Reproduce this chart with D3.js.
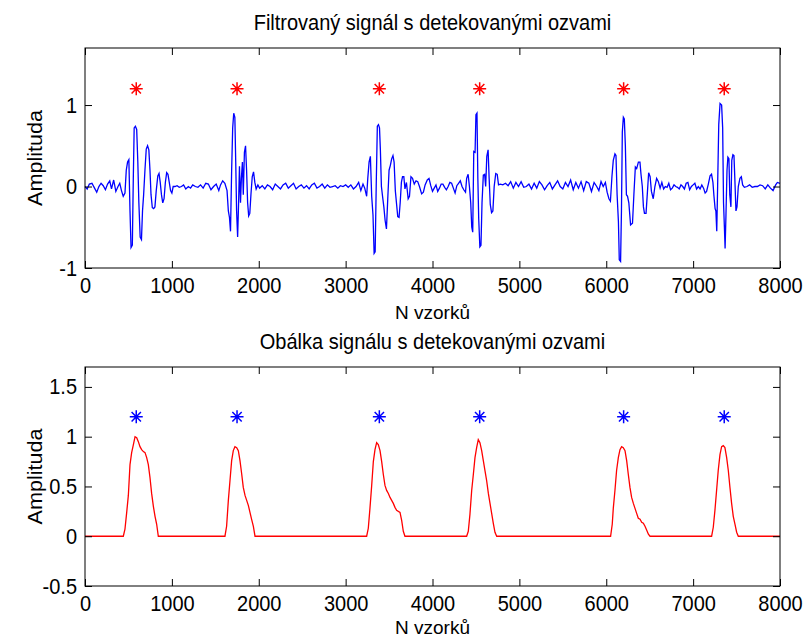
<!DOCTYPE html>
<html>
<head>
<meta charset="utf-8">
<script src="https://cdn.jsdelivr.net/npm/d3@7"></script>
<style>
  html, body { margin: 0; padding: 0; background: #fff; }
  svg { display: block; }
  text { font-family: "Liberation Sans", Arial, Helvetica, sans-serif; fill: #000; }
</style>
</head>
<body>
<svg id="chart" width="803" height="639"></svg>
<script>
// ---------------- DATA ----------------
const xTicks = [0, 1000, 2000, 3000, 4000, 5000, 6000, 7000, 8000];
const yTicksTop = [-1, 0, 1];
const yTicksBottom = [-0.5, 0, 0.5, 1, 1.5];
const titleTop = "Filtrovaný signál s detekovanými ozvami";
const titleBottom = "Obálka signálu s detekovanými ozvami";
const xLabel = "N vzorků";
const yLabel = "Amplituda";

// detected echoes (sample index) and marker level
const detections = [590, 1750, 3388, 4543, 6200, 7358];
const detectionLevel = 1.2;

// filtered signal: [sample, amplitude]
const filtered = [
 [0,0.0],[25,-0.03],[50,0.03],[80,0.04],[110,-0.02],[135,-0.07],[160,0.0],[185,0.04],[210,0.01],[235,-0.04],
 [260,0.03],[285,0.07],[305,-0.03],[330,0.08],[355,-0.06],[380,0.0],[400,0.04],[420,-0.05],[440,-0.12],[460,-0.08],
 [475,0.2],[490,0.3],[505,0.33],[518,-0.3],[530,-0.75],[545,-0.72],[556,0.1],[566,0.72],[580,0.74],[595,0.7],
 [608,0.3],[620,-0.2],[635,-0.62],[650,-0.65],[662,-0.3],[675,-0.1],[690,0.2],[705,0.46],[720,0.5],[735,0.45],
 [748,0.2],[760,-0.1],[775,-0.26],[790,-0.27],[805,-0.25],[820,-0.05],[838,0.13],[852,0.16],[866,0.05],[880,-0.1],
 [895,-0.2],[910,-0.15],[925,0.05],[940,0.17],[955,0.15],[970,0.05],[985,-0.05],[1000,-0.08],[1015,0.0],
 [1035,0.0],[1060,0.01],[1085,-0.01],[1110,0.0],[1135,0.02],[1160,-0.03],[1190,0.0],[1215,-0.02],[1240,0.02],
 [1270,0.0],[1300,-0.01],[1330,0.02],[1360,-0.02],[1390,0.04],[1420,0.03],[1450,-0.04],[1480,0.0],[1510,0.03],
 [1540,-0.05],[1560,0.02],[1585,0.07],[1610,0.04],[1635,-0.05],
 [1650,-0.3],[1663,-0.38],[1675,-0.55],[1688,0.2],[1700,0.72],[1712,0.9],[1725,0.85],[1735,0.3],[1745,-0.3],
 [1757,-0.62],[1768,-0.2],[1778,0.25],[1790,-0.2],[1800,0.1],[1812,0.3],[1822,-0.1],[1835,0.42],[1848,0.5],
 [1860,0.2],[1872,-0.2],[1884,-0.36],[1897,-0.33],[1910,-0.1],[1925,0.12],[1940,0.18],[1955,0.05],[1970,-0.03],
 [1990,0.02],[2010,-0.02],[2040,0.01],[2070,-0.03],[2100,0.02],[2130,0.0],[2160,-0.04],[2190,0.03],[2220,0.0],
 [2250,-0.03],[2280,0.02],[2310,0.04],[2340,-0.02],[2370,0.01],[2400,0.04],[2430,-0.03],[2460,0.0],[2490,0.02],
 [2520,-0.02],[2550,0.01],[2580,-0.03],[2610,0.02],[2640,0.04],[2670,-0.02],[2700,0.0],[2730,0.03],[2760,-0.02],
 [2790,0.02],[2820,-0.01],[2850,0.0],[2880,0.01],[2910,-0.02],[2940,0.01],[2970,0.0],[3000,0.02],[3030,-0.01],
 [3060,0.02],[3090,-0.03],[3120,0.0],[3150,0.05],[3175,-0.05],[3200,0.03],[3220,-0.02],[3242,-0.12],
 [3255,0.1],[3270,0.3],[3285,0.37],[3300,-0.12],[3315,-0.35],[3328,-0.82],[3340,-0.8],[3352,0.0],[3365,0.74],
 [3378,0.76],[3390,0.72],[3400,0.45],[3412,0.0],[3425,-0.12],[3440,-0.25],[3455,-0.42],[3470,-0.52],[3485,-0.15],
 [3500,0.2],[3515,0.26],[3530,0.34],[3545,0.38],[3558,0.3],[3572,-0.05],[3585,-0.2],[3600,-0.37],[3615,-0.38],
 [3628,-0.2],[3642,0.05],[3655,0.12],[3670,0.12],[3683,-0.03],[3700,0.05],[3720,-0.15],[3735,-0.12],[3752,0.12],
 [3770,0.1],[3790,0.03],[3810,0.07],[3830,0.06],[3850,0.0],[3875,-0.09],[3895,-0.07],[3915,0.02],[3940,0.08],
 [3960,0.1],[3980,0.01],[4000,-0.06],[4020,-0.02],[4040,0.02],[4060,-0.06],[4080,-0.02],[4100,0.03],[4120,0.03],
 [4140,-0.01],[4160,-0.04],[4180,0.0],[4200,0.05],[4220,0.04],[4240,-0.02],[4260,-0.08],[4280,0.01],[4300,0.04],
 [4320,0.07],[4340,0.0],[4360,-0.04],[4380,-0.07],[4393,0.1],[4410,0.15],[4425,0.0],[4440,-0.2],
 [4452,-0.5],[4463,-0.56],[4475,0.43],[4490,0.42],[4500,0.88],[4512,0.9],[4522,0.1],[4532,-0.4],[4545,-0.74],
 [4558,-0.72],[4570,-0.2],[4585,0.14],[4600,0.15],[4612,0.0],[4625,0.37],[4640,0.45],[4652,0.1],[4665,-0.22],
 [4680,-0.32],[4695,-0.3],[4710,0.0],[4728,0.16],[4745,0.15],[4760,0.02],
 [4780,0.03],[4810,0.02],[4840,0.04],[4870,0.01],[4900,0.06],[4930,-0.02],[4960,0.05],[4990,0.0],[5020,0.06],
 [5050,-0.01],[5080,0.0],[5110,0.03],[5140,-0.03],[5170,0.04],[5200,-0.02],[5230,0.06],[5260,0.02],[5290,-0.04],
 [5320,0.01],[5350,0.05],[5380,-0.03],[5410,0.02],[5440,0.07],[5470,0.0],[5500,-0.03],[5530,0.05],[5560,0.0],
 [5590,0.08],[5620,-0.04],[5650,0.05],[5680,-0.02],[5710,0.06],[5740,-0.05],[5770,0.06],[5800,0.04],[5830,-0.06],
 [5860,0.05],[5890,0.0],[5915,-0.05],[5940,0.06],[5965,0.0],[5990,0.05],[6010,-0.07],[6031,-0.15],[6048,-0.18],
 [6066,0.13],[6081,0.32],[6100,0.4],[6112,0.38],[6125,-0.1],[6140,-0.43],[6150,-0.9],[6165,-0.92],[6175,-0.3],
 [6185,0.67],[6197,0.85],[6208,0.83],[6220,0.5],[6232,-0.1],[6245,-0.12],[6260,-0.2],[6280,-0.47],[6302,-0.45],
 [6318,-0.1],[6335,0.24],[6350,0.22],[6370,0.3],[6388,0.3],[6400,0.15],[6415,0.0],[6428,-0.25],[6440,-0.33],
 [6458,-0.33],[6472,-0.1],[6488,0.17],[6505,0.12],[6520,-0.06],[6541,-0.15],[6560,0.0],[6580,0.1],[6600,0.06],
 [6620,-0.02],[6640,0.05],[6660,-0.03],[6680,0.0],[6700,-0.01],[6720,0.04],[6740,-0.04],[6760,-0.02],[6780,0.02],
 [6800,0.0],[6820,-0.01],[6840,-0.03],[6860,0.02],[6880,0.0],[6900,-0.03],[6920,0.04],[6940,0.05],[6960,-0.04],
 [6980,0.0],[7000,0.02],[7020,0.04],[7040,-0.03],[7060,0.0],[7080,-0.03],[7100,0.02],[7120,-0.02],[7138,-0.08],
 [7155,-0.06],[7175,0.03],[7195,0.13],[7212,0.15],[7228,0.05],[7240,-0.12],[7253,-0.27],[7262,-0.3],[7272,-0.55],
 [7282,0.0],[7295,0.76],[7310,1.02],[7328,1.0],[7340,0.72],[7350,-0.2],[7360,-0.5],[7368,-0.76],[7378,-0.35],
 [7390,0.2],[7400,0.36],[7412,0.34],[7422,-0.1],[7435,-0.25],[7445,0.32],[7458,0.39],[7470,0.38],[7480,0.1],
 [7493,-0.3],[7505,-0.25],[7520,0.0],[7539,0.1],[7555,0.12],[7570,0.02],
 [7590,-0.01],[7620,0.0],[7650,0.02],[7680,-0.01],[7710,0.0],[7740,0.0],[7770,0.02],[7800,0.01],[7830,-0.03],
 [7860,0.02],[7890,-0.02],[7920,-0.05],[7950,0.02],[7970,0.05],[8000,0.04]
];

// signal envelope: [sample, amplitude]
const envelope = [
 [0,0],[441,0],[460,0.07],[480,0.24],[499,0.41],[518,0.72],[537,0.84],[557,0.92],[576,1.0],[595,0.99],
 [614,0.95],[633,0.9],[652,0.87],[672,0.85],[691,0.84],[710,0.79],[729,0.72],[748,0.59],[767,0.43],[787,0.3],
 [806,0.2],[825,0.12],[844,0],
 [1611,0],[1630,0.1],[1650,0.36],[1669,0.56],[1688,0.76],[1707,0.86],[1726,0.9],[1746,0.89],[1765,0.86],
 [1784,0.76],[1803,0.63],[1822,0.49],[1842,0.41],[1861,0.36],[1880,0.31],[1899,0.24],[1918,0.17],[1938,0.1],[1957,0],
 [3242,0],[3261,0.08],[3280,0.28],[3300,0.51],[3319,0.75],[3338,0.87],[3357,0.94],[3376,0.92],[3396,0.86],
 [3415,0.75],[3434,0.62],[3453,0.51],[3472,0.46],[3492,0.43],[3511,0.39],[3530,0.36],[3549,0.33],[3568,0.29],
 [3587,0.26],[3626,0.24],[3645,0.16],[3664,0.05],[3683,0],
 [4393,0],[4412,0.05],[4431,0.22],[4451,0.46],[4470,0.62],[4489,0.79],[4508,0.89],[4527,0.97],[4546,0.94],
 [4566,0.86],[4585,0.76],[4604,0.66],[4623,0.56],[4643,0.43],[4662,0.33],[4681,0.23],[4700,0.13],[4719,0.04],[4739,0],
 [6050,0],[6069,0.12],[6081,0.28],[6100,0.46],[6119,0.66],[6139,0.79],[6158,0.87],[6177,0.9],[6196,0.89],
 [6216,0.86],[6235,0.76],[6254,0.62],[6273,0.49],[6292,0.39],[6312,0.33],[6331,0.28],[6350,0.23],[6369,0.18],
 [6389,0.17],[6408,0.14],[6427,0.13],[6446,0.1],[6466,0.06],[6485,0.02],[6504,0],
 [7213,0],[7232,0.09],[7251,0.26],[7270,0.46],[7289,0.66],[7309,0.82],[7328,0.9],[7347,0.91],[7366,0.89],
 [7386,0.79],[7405,0.66],[7424,0.49],[7443,0.33],[7462,0.2],[7482,0.12],[7501,0.04],[7520,0],[8000,0]
];

// ---------------- DRAWING ----------------
const svg = d3.select("#chart");
svg.append("rect").attr("width", 803).attr("height", 639).attr("fill", "#fff");

const FS = 20;          // font size
const SY = 1.08;        // vertical stretch of the original rendering
const TICK = 7;

function starPath(r) {
  const d = r * 0.72;
  return `M${-r},0H${r}M0,${-r}V${r}M${-d},${-d}L${d},${d}M${-d},${d}L${d},${-d}`;
}

function panel(cfg) {
  const {left, right, top, bottom, yDomain, yTicks, data, lineColor, starColor, title, titleY, xLabelY} = cfg;
  const x = d3.scaleLinear().domain([0, 8000]).range([left, right]);
  const y = d3.scaleLinear().domain(yDomain).range([bottom, top]);
  const g = svg.append("g");

  // data line
  const line = d3.line().x(d => x(d[0])).y(d => y(d[1]));
  g.append("path").datum(data)
    .attr("fill", "none").attr("stroke", lineColor).attr("stroke-width", 1.3)
    .attr("stroke-linejoin", "miter")
    .attr("d", line);

  // detection markers
  g.selectAll("path.star").data(detections).enter().append("path")
    .attr("class", "star")
    .attr("transform", d => `translate(${x(d)},${y(detectionLevel)})`)
    .attr("d", starPath(6.5))
    .attr("stroke", starColor).attr("stroke-width", 1.5).attr("fill", "none");

  // axes (ticks pointing inward on all four sides)
  const fmt = d => String(d);
  const gx = g.append("g").attr("transform", `translate(0,${bottom})`)
    .call(d3.axisBottom(x).tickValues(xTicks).tickSize(-TICK).tickSizeOuter(0).tickFormat(fmt));
  const gxt = g.append("g").attr("transform", `translate(0,${top})`)
    .call(d3.axisTop(x).tickValues(xTicks).tickSize(-TICK).tickSizeOuter(0).tickFormat(""));
  const gy = g.append("g").attr("transform", `translate(${left},0)`)
    .call(d3.axisLeft(y).tickValues(yTicks).tickSize(-TICK).tickSizeOuter(0).tickFormat(fmt));
  const gyr = g.append("g").attr("transform", `translate(${right},0)`)
    .call(d3.axisRight(y).tickValues(yTicks).tickSize(-TICK).tickSizeOuter(0).tickFormat(""));
  [gx, gxt, gy, gyr].forEach(a => {
    a.select(".domain").remove();
    a.selectAll("line").attr("stroke", "#000").attr("stroke-width", 1);
  });
  gx.selectAll("text")
    .attr("y", 0).attr("dy", 0)
    .attr("transform", `translate(0,${25}) scale(1,${SY})`)
    .style("font-size", FS + "px").attr("fill", "#000");
  gy.selectAll("text")
    .attr("x", 0).attr("dy", 0)
    .attr("transform", `translate(-8,${7}) scale(1,${SY})`)
    .attr("text-anchor", "end")
    .style("font-size", FS + "px").attr("fill", "#000");

  // box
  g.append("rect").attr("x", left).attr("y", top)
    .attr("width", right - left).attr("height", bottom - top)
    .attr("fill", "none").attr("stroke", "#000").attr("stroke-width", 1);

  // title
  g.append("text").attr("transform", `translate(${(left + right) / 2},${titleY}) scale(1,${SY})`)
    .attr("text-anchor", "middle").style("font-size", FS + "px").text(title);
  // x label
  g.append("text").attr("transform", `translate(${(left + right) / 2},${xLabelY})`)
    .attr("text-anchor", "middle").style("font-size", "19px").text(xLabel);
  // y label
  g.append("text").attr("transform", `translate(42,${(top + bottom) / 2}) scale(1,${SY}) rotate(-90)`)
    .attr("text-anchor", "middle").style("font-size", FS + "px").text(yLabel);
}

panel({left: 85, right: 780, top: 48, bottom: 268, yDomain: [-1, 1.7], yTicks: yTicksTop,
       data: filtered, lineColor: "#0000ff", starColor: "#ff0000", title: titleTop, titleY: 30, xLabelY: 319});
panel({left: 85, right: 780, top: 367, bottom: 586, yDomain: [-0.5, 1.7], yTicks: yTicksBottom,
       data: envelope, lineColor: "#ff0000", starColor: "#0000ff", title: titleBottom, titleY: 349, xLabelY: 634});
</script>
</body>
</html>
